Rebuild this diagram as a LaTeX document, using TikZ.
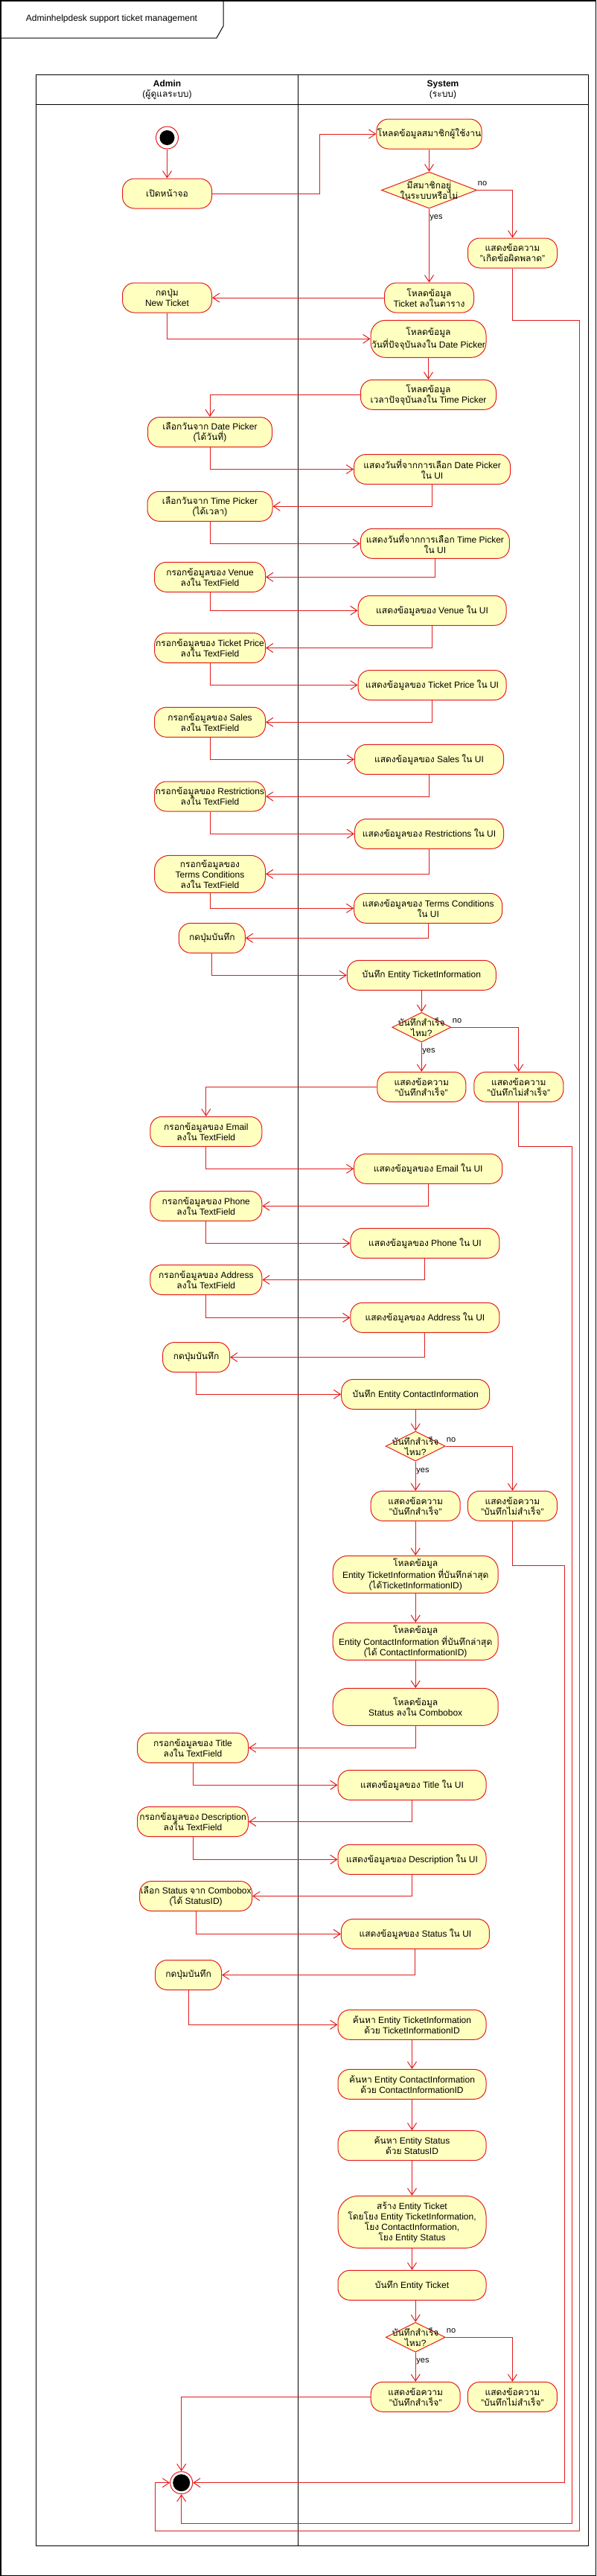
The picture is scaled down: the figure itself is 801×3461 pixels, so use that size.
\documentclass[tikz,border=0pt]{standalone}
\usepackage{fontspec}
\setmainfont{Liberation Sans}
\newfontfamily\thaifont[Script=Thai]{Loma}
\usetikzlibrary{arrows.meta,shapes.geometric}
\XeTeXinterchartokenstate=1
\newXeTeXintercharclass\thaiclass
\count255="0E00
\loop\ifnum\count255<"0E80
  \XeTeXcharclass\count255=\thaiclass
  \advance\count255 by 1
\repeat
\XeTeXinterchartoks 0 \thaiclass = {\begingroup\thaifont}
\XeTeXinterchartoks 4095 \thaiclass = {\begingroup\thaifont}
\XeTeXinterchartoks \thaiclass 0 = {\endgroup}
\XeTeXinterchartoks \thaiclass 4095 = {\endgroup}
\definecolor{lr}{HTML}{E31B1B}
\definecolor{ly}{HTML}{FFFFC0}
\newcommand\fs{\fontsize{12}{14}\selectfont}
\newcommand\fsm{\fontsize{11}{13}\selectfont}
\tikzset{
  act/.style={draw=lr, fill=ly, line width=1pt, rounded corners=16pt, minimum height=40pt,
    align=center, inner sep=1pt, font=\fs},
  act50/.style={act, rounded corners=20pt, minimum height=50pt},
  act70/.style={act, rounded corners=27pt, minimum height=70pt},
  dec/.style={diamond, draw=lr, fill=ly, line width=1pt, inner sep=0pt},
  dtxt/.style={align=center, font=\fs, inner sep=0pt},
  lbl/.style={font=\fsm, inner sep=0pt},
  flow/.style={draw=lr, line width=1pt, -{Straight Barb[length=9pt,width=12pt]}},
  lane/.style={draw=black, line width=1pt},
}
\begin{document}
\begin{tikzpicture}[x=1pt,y=-1pt]
\useasboundingbox (0,0) rectangle (801,3461);
% outer frame and title
\draw[line width=1.5pt] (0.75,0.75) rectangle (800.25,3460.25);
\draw[line width=1pt] (0,51) -- (291,51) -- (300,35) -- (300,0);
\node[font=\fs] (title) at (150,25) {Adminhelpdesk support ticket management};
% swimlanes
\draw[lane] (48.5,100) rectangle (790,3420);
\draw[lane] (48.5,140) -- (790,140);
\draw[lane] (400.5,100) -- (400.5,3420);
\node[align=center, font=\fs] (hA) at (224.5,120.5) {\textbf{Admin}\\(ผู้ดูแลระบบ)};
\node[align=center, font=\fs] (hS) at (595,120.5) {\textbf{System}\\(ระบบ)};

% start
\node[circle, draw=lr, fill=white, line width=1pt, minimum size=30pt, inner sep=0pt] (st) at (224.5,185) {};
\fill[black] (st.center) circle [radius=10pt];

\node[act, minimum width=120pt] (a1) at (224.5,260) {เปิดหน้าจอ};
\node[act, minimum width=133pt] (s1) at (576.5,180) {โหลดข้อมูลสมาชิกผู้ใช้งาน};
\node[dec, minimum width=128pt, minimum height=49pt] (d1) at (576.5,255.5) {};
\node[dtxt] (d1t) at (576.5,255.5) {มีสมาชิกอยู่\\ในระบบหรือไม่};
\node[act, minimum width=120pt] (err) at (688.5,340) {แสดงข้อความ\\"เกิดข้อผิดพลาด"};
\node[act, minimum width=120pt] (s2) at (576.5,400) {โหลดข้อมูล\\Ticket ลงในตาราง};
\node[act, minimum width=120pt] (a2) at (224.5,400) {กดปุ่ม\\New Ticket};
\node[act50, minimum width=155pt] (s3) at (575.5,455.3) {โหลดข้อมูล\\วันที่ปัจจุบันลงใน Date Picker};
\node[act, minimum width=182pt] (s4) at (575.5,530.3) {โหลดข้อมูล\\เวลาปัจจุบันลงใน Time Picker};
\node[act, minimum width=167pt] (a3) at (282,580.5) {เลือกวันจาก Date Picker\\(ได้วันที่)};
\node[act, minimum width=210pt] (s5) at (580.6,630.5) {แสดงวันที่จากการเลือก Date Picker\\ใน UI};
\node[act, minimum width=168pt] (a4) at (282,680.3) {เลือกวันจาก Time Picker\\(ได้เวลา)};
\node[act, minimum width=200pt] (s6) at (584.4,730.3) {แสดงวันที่จากการเลือก Time Picker\\ใน UI};
\node[act, minimum width=149pt] (a5) at (282,775.3) {กรอกข้อมูลของ Venue\\ลงใน TextField};
\node[act, minimum width=199pt] (s7) at (580.6,820.3) {แสดงข้อมูลของ Venue ใน UI};
\node[act, minimum width=149pt] (a6) at (282,870.5) {กรอกข้อมูลของ Ticket Price\\ลงใน TextField};
\node[act, minimum width=199pt] (s8) at (580.6,920.5) {แสดงข้อมูลของ Ticket Price ใน UI};
\node[act, minimum width=149pt] (a7) at (282,970.3) {กรอกข้อมูลของ Sales\\ลงใน TextField};
\node[act, minimum width=200pt] (s9) at (576.5,1020.3) {แสดงข้อมูลของ Sales ใน UI};
\node[act, minimum width=149pt] (a8) at (282,1070) {กรอกข้อมูลของ Restrictions\\ลงใน TextField};
\node[act, minimum width=200pt] (s10) at (576.5,1120.3) {แสดงข้อมูลของ Restrictions ใน UI};
\node[act50, minimum width=149pt] (a9) at (282,1174.3) {กรอกข้อมูลของ\\Terms Conditions\\ลงใน TextField};
\node[act, minimum width=199pt] (s11) at (575.2,1220.3) {แสดงข้อมูลของ Terms Conditions\\ใน UI};
\node[act, minimum width=89pt] (a10) at (284.8,1260.3) {กดปุ่มบันทึก};
\node[act, minimum width=200pt] (s12) at (566.3,1310.3) {บันทึก Entity TicketInformation};
\node[dec, minimum width=79pt, minimum height=40pt] (d2) at (566.3,1380.2) {};
\node[dtxt] (d2t) at (566.3,1380.2) {บันทึกสำเร็จ\\ไหม?};
\node[act, minimum width=119pt] (ok1) at (566.3,1460.3) {แสดงข้อความ\\"บันทึกสำเร็จ"};
\node[act, minimum width=120pt] (fail1) at (696.8,1460.3) {แสดงข้อความ\\"บันทึกไม่สำเร็จ"};
\node[act, minimum width=150pt] (a11) at (276.8,1520.3) {กรอกข้อมูลของ Email\\ลงใน TextField};
\node[act, minimum width=199pt] (s13) at (575.2,1570.3) {แสดงข้อมูลของ Email ใน UI};
\node[act, minimum width=150pt] (a12) at (276.8,1620.3) {กรอกข้อมูลของ Phone\\ลงใน TextField};
\node[act, minimum width=200pt] (s14) at (570.9,1670.3) {แสดงข้อมูลของ Phone ใน UI};
\node[act, minimum width=150pt] (a13) at (276.8,1719.5) {กรอกข้อมูลของ Address\\ลงใน TextField};
\node[act, minimum width=200pt] (s15) at (570.9,1770.3) {แสดงข้อมูลของ Address ใน UI};
\node[act, minimum width=90pt] (a14) at (263.6,1823.5) {กดปุ่มบันทึก};
\node[act, minimum width=199pt] (s16) at (558.2,1873.3) {บันทึก Entity ContactInformation};
\node[dec, minimum width=80pt, minimum height=40pt] (d3) at (558.2,1943) {};
\node[dtxt] (d3t) at (558.2,1943) {บันทึกสำเร็จ\\ไหม?};
\node[act, minimum width=120pt] (ok2) at (558.2,2023.3) {แสดงข้อความ\\"บันทึกสำเร็จ"};
\node[act, minimum width=120pt] (fail2) at (688.4,2023.3) {แสดงข้อความ\\"บันทึกไม่สำเร็จ"};
\node[act50, minimum width=222pt] (s17) at (558.2,2115.3) {โหลดข้อมูล\\Entity TicketInformation ที่บันทึกล่าสุด\\(ได้TicketInformationID)};
\node[act50, minimum width=222pt] (s18) at (558.2,2205.3) {โหลดข้อมูล\\Entity ContactInformation ที่บันทึกล่าสุด\\(ได้ ContactInformationID)};
\node[act50, minimum width=222pt] (s19) at (558.2,2293.3) {โหลดข้อมูล\\Status ลงใน Combobox};
\node[act, minimum width=149pt] (a15) at (259,2348.3) {กรอกข้อมูลของ Title\\ลงใน TextField};
\node[act, minimum width=199pt] (s20) at (553.5,2398.3) {แสดงข้อมูลของ Title ใน UI};
\node[act, minimum width=149pt] (a16) at (259,2447.5) {กรอกข้อมูลของ Description\\ลงใน TextField};
\node[act, minimum width=199pt] (s21) at (553.5,2498.3) {แสดงข้อมูลของ Description ใน UI};
\node[act, minimum width=149pt] (a17) at (263.1,2547.5) {เลือก Status จาก Combobox\\(ได้ StatusID)};
\node[act, minimum width=199pt] (s22) at (557.9,2598.3) {แสดงข้อมูลของ Status ใน UI};
\node[act, minimum width=89pt] (a18) at (253.1,2653.5) {กดปุ่มบันทึก};
\node[act, minimum width=199pt] (s23) at (553.5,2720.3) {ค้นหา Entity TicketInformation\\ด้วย TicketInformationID};
\node[act, minimum width=199pt] (s24) at (553.5,2800.3) {ค้นหา Entity ContactInformation\\ด้วย ContactInformationID};
\node[act, minimum width=199pt] (s25) at (553.5,2882.7) {ค้นหา Entity Status\\ด้วย StatusID};
\node[act70, minimum width=199pt] (s26) at (553.5,2985.3) {สร้าง Entity Ticket\\โดยโยง Entity TicketInformation,\\โยง ContactInformation,\\โยง Entity Status};
\node[act, minimum width=199pt] (s27) at (553.5,3070.3) {บันทึก Entity Ticket};
\node[dec, minimum width=80pt, minimum height=40pt] (d4) at (558.2,3140.2) {};
\node[dtxt] (d4t) at (558.2,3140.2) {บันทึกสำเร็จ\\ไหม?};
\node[act, minimum width=120pt] (ok3) at (558.2,3220.3) {แสดงข้อความ\\"บันทึกสำเร็จ"};
\node[act, minimum width=120pt] (fail3) at (688.4,3220.3) {แสดงข้อความ\\"บันทึกไม่สำเร็จ"};

% end
\node[circle, draw=lr, fill=white, line width=1pt, minimum size=30pt, inner sep=0pt] (en) at (243.7,3335.7) {};
\fill[black] (en.center) circle [radius=11.5pt];

% yes / no labels
\node[lbl] (no1) at (648,247) {no};
\node[lbl] (yes1) at (586,293) {yes};
\node[lbl] (no2) at (614,1372) {no};
\node[lbl] (yes2) at (576,1413) {yes};
\node[lbl] (no3) at (606,1935) {no};
\node[lbl] (yes3) at (568,1977) {yes};
\node[lbl] (no4) at (606,3132) {no};
\node[lbl] (yes4) at (568,3173) {yes};

% connectors
\draw[flow] (st) -- (a1);
\draw[flow] (a1.east) -- ++(144,0) |- (s1.west);
\draw[flow] (s1) -- (d1);
\draw[flow] (d1) -- (s2);
\draw[flow] (d1.east) -| (err.north);
\draw[flow] (err.south) |- (778.5,430.3) |- (208.4,3400.7) |- (en.west);
\draw[flow] (s2) -- (a2);
\draw[flow] (a2.south) |- (s3.west);
\draw[flow] (s3) -- (s4);
\draw[flow] (s4.west) -| (a3.north);
\draw[flow] (a3.south) |- (s5.west);
\draw[flow] (s5.south) |- (a4.east);
\draw[flow] (a4.south) |- (s6.west);
\draw[flow] (s6.south) |- (a5.east);
\draw[flow] (a5.south) |- (s7.west);
\draw[flow] (s7.south) |- (a6.east);
\draw[flow] (a6.south) |- (s8.west);
\draw[flow] (s8.south) |- (a7.east);
\draw[flow] (a7.south) |- (s9.west);
\draw[flow] (s9.south) |- (a8.east);
\draw[flow] (a8.south) |- (s10.west);
\draw[flow] (s10.south) |- (a9.east);
\draw[flow] (a9.south) |- (s11.west);
\draw[flow] (s11.south) |- (a10.east);
\draw[flow] (a10.south) |- (s12.west);
\draw[flow] (s12) -- (d2);
\draw[flow] (d2) -- (ok1);
\draw[flow] (d2.east) -| (fail1.north);
\draw[flow] (ok1.west) -| (a11.north);
\draw[flow] (fail1.south) |- (768.3,1540.3) |- (243.7,3390.3) -- (en.south);
\draw[flow] (a11.south) |- (s13.west);
\draw[flow] (s13.south) |- (a12.east);
\draw[flow] (a12.south) |- (s14.west);
\draw[flow] (s14.south) |- (a13.east);
\draw[flow] (a13.south) |- (s15.west);
\draw[flow] (s15.south) |- (a14.east);
\draw[flow] (a14.south) |- (s16.west);
\draw[flow] (s16) -- (d3);
\draw[flow] (d3) -- (ok2);
\draw[flow] (d3.east) -| (fail2.north);
\draw[flow] (fail2.south) |- (758.6,2103.3) |- (en.east);
\draw[flow] (ok2) -- (s17);
\draw[flow] (s17) -- (s18);
\draw[flow] (s18) -- (s19);
\draw[flow] (s19.south) |- (a15.east);
\draw[flow] (a15.south) |- (s20.west);
\draw[flow] (s20.south) |- (a16.east);
\draw[flow] (a16.south) |- (s21.west);
\draw[flow] (s21.south) |- (a17.east);
\draw[flow] (a17.south) |- (s22.west);
\draw[flow] (s22.south) |- (a18.east);
\draw[flow] (a18.south) |- (s23.west);
\draw[flow] (s23) -- (s24);
\draw[flow] (s24) -- (s25);
\draw[flow] (s25) -- (s26);
\draw[flow] (s26) -- (s27);
\draw[flow] (d4.north |- s27.south) -- (d4.north);
\draw[flow] (d4) -- (ok3);
\draw[flow] (d4.east) -| (fail3.north);
\draw[flow] (ok3.west) -| (en.north);
\end{tikzpicture}
\end{document}
